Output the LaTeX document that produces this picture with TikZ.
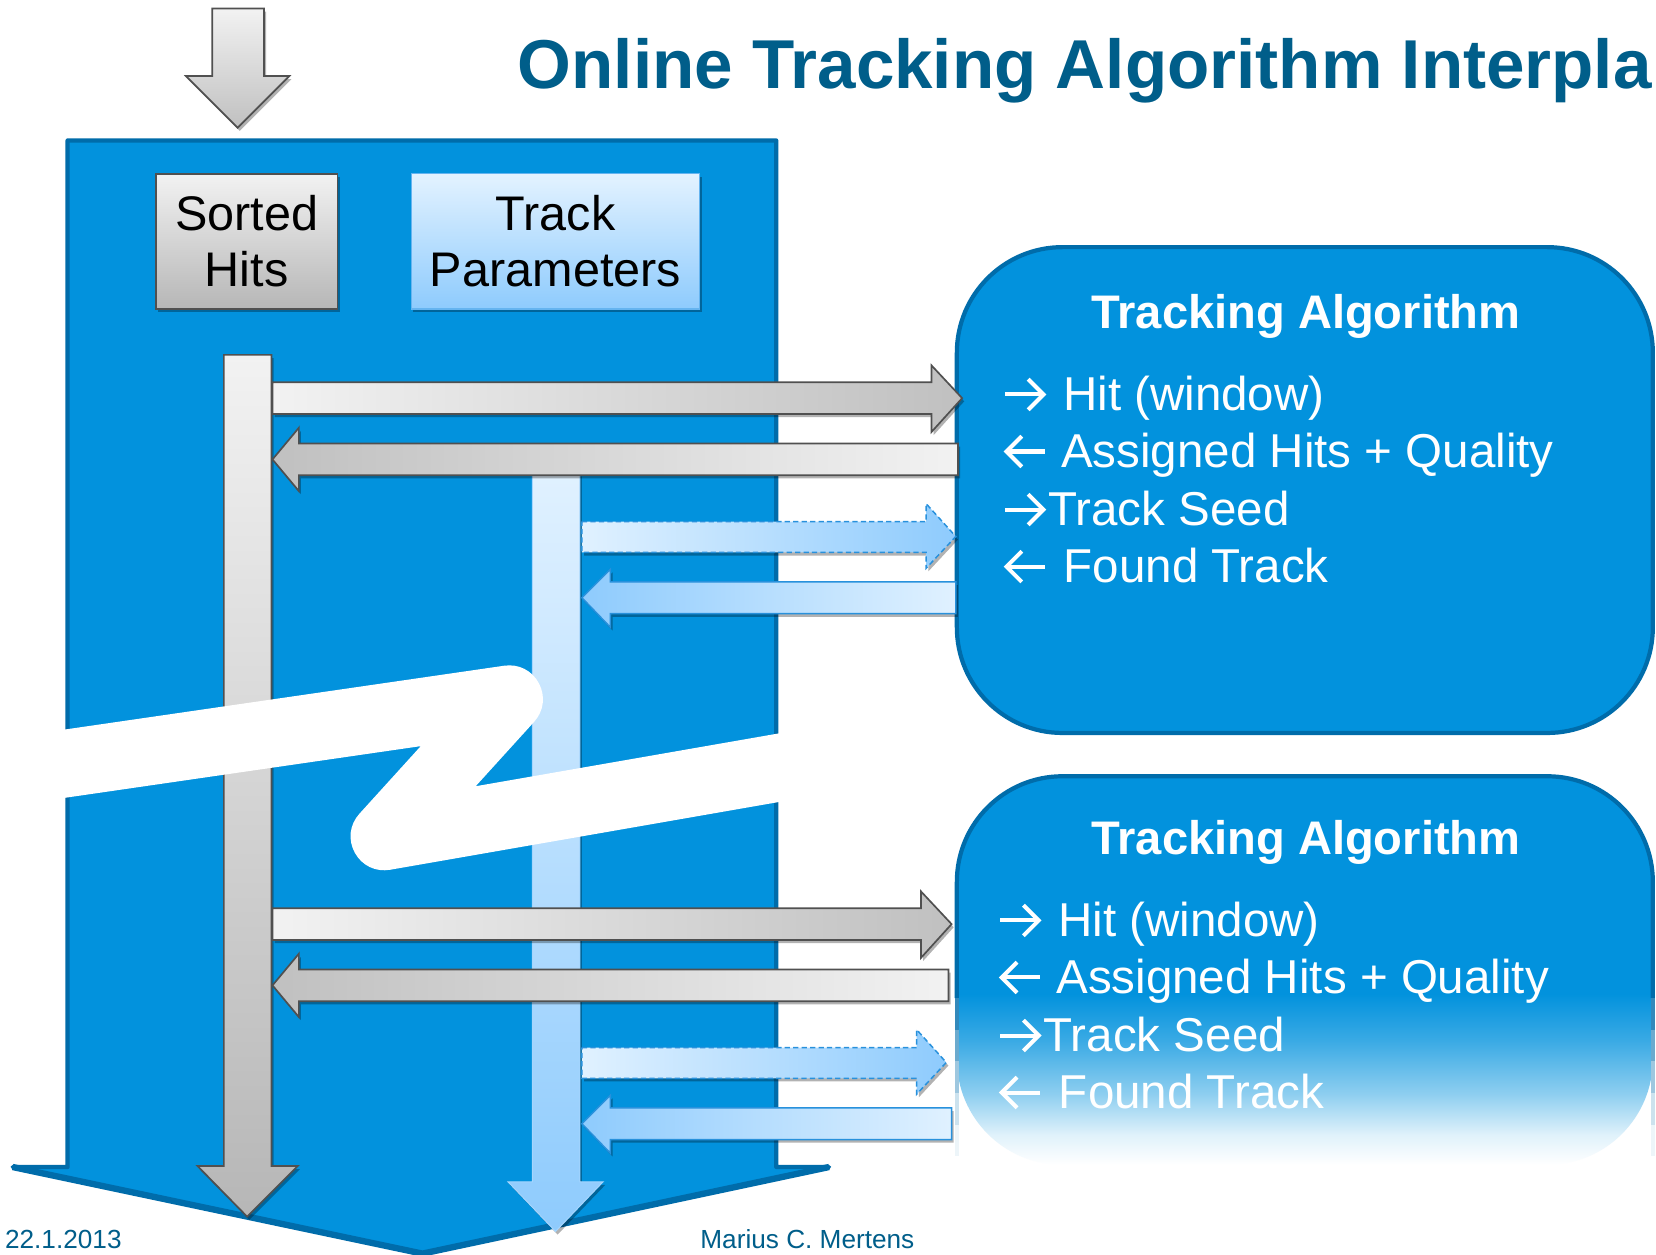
\documentclass[tikz,border=0pt]{standalone}
\usepackage{fontspec}
\setmainfont{Liberation Sans}
\usetikzlibrary{shadows}
\definecolor{panelblue}{RGB}{2,146,221}
\definecolor{panelline}{RGB}{0,108,170}
\definecolor{titleblue}{RGB}{0,94,138}
\definecolor{grayline}{RGB}{80,80,80}
\definecolor{lightA}{RGB}{224,241,255}
\definecolor{lightB}{RGB}{142,203,253}
\definecolor{lightline}{RGB}{40,145,220}
\definecolor{grayA}{RGB}{242,242,242}
\definecolor{grayB}{RGB}{192,192,192}
\pgfdeclareverticalshading{boxfade}{100bp}{color(0bp)=(white); color(25bp)=(white); color(28.8bp)=(panelblue!12!white); color(34.2bp)=(panelblue!45!white); color(41bp)=(panelblue!78!white); color(47bp)=(panelblue); color(100bp)=(panelblue)}
% small line arrows used in the item lists: #1 = left x, #2 = baseline y
\newcommand\myrarr[2]{%
  \draw[symarrow] (#1,#2-15.5) -- ({#1+36.5},#2-15.5);
  \draw[symarrow] ({#1+22},#2-30) -- ({#1+36.5},#2-15.5) -- ({#1+22},#2-1);}
\newcommand\mylarr[2]{%
  \draw[symarrow] ({#1+1.5},#2-15.5) -- ({#1+37.5},#2-15.5);
  \draw[symarrow] ({#1+16},#2-30) -- ({#1+1.5},#2-15.5) -- ({#1+16},#2-1);}
\begin{document}
\begin{tikzpicture}[x=1pt,y=-1pt,
  shd/.style={drop shadow={shadow xshift=2pt, shadow yshift=-3pt, opacity=0.3, fill=black}},
  grayarrow/.style={draw=grayline, line width=1.6},
  lightarrow/.style={draw=lightline, line width=1.4},
  dasharrow/.style={draw=lightline, line width=1.4, dash pattern=on 5pt off 3pt},
  symarrow/.style={draw=white, line width=3.8, line cap=butt, line join=miter},
  itemtxt/.style={inner sep=0pt, anchor=base west, text=white, font=\fontsize{45}{54}\selectfont},
  algotitle/.style={inner sep=0pt, anchor=base, text=white, font=\fontsize{44.6}{52}\selectfont\bfseries},
  boxtxt/.style={inner sep=0pt, align=center, font=\fontsize{46}{53}\selectfont}]
\useasboundingbox[fill=white] (0,0) rectangle (1568,1188);

% title
\node[inner sep=0pt, anchor=base west, text=titleblue, font=\fontsize{65.5}{78}\selectfont\bfseries] (title) at (490,84) {Online Tracking Algorithm Interpla};

% top input arrow
\draw[grayarrow, shd, top color=grayA, bottom color=grayB] (201,8) -- (250,8) -- (250,72) -- (274,72) -- (225,121) -- (176,72) -- (201,72) -- cycle;

% main panel (big down arrow)
\draw[panelline, fill=panelblue, line width=4, line join=round] (64,133) -- (735,133) -- (735,1105) -- (785,1105) -- (400,1187) -- (12,1105) -- (64,1105) -- cycle;
\draw[panelline, line width=6, line join=round] (785,1105) -- (400,1187) -- (12,1105);

% vertical shafts
\draw[grayarrow, shd, top color=grayA, bottom color=grayB!95!black] (212,336) -- (257,336) -- (257,1104) -- (282,1104) -- (234,1152) -- (187,1104) -- (212,1104) -- cycle;
\draw[draw=lightB!80!white, line width=1, shd, top color=lightA, bottom color=lightB] (504,448) -- (549,448) -- (549,1119) -- (571,1119) -- (526,1166) -- (481,1119) -- (504,1119) -- cycle;

% tracking algorithm boxes
\draw[panelline, fill=panelblue, line width=4, rounded corners=100pt] (906,234) rectangle (1565,694);
\shade[shading=boxfade, rounded corners=100pt] (906,735) rectangle (1565,1103);
\draw[panelline, line width=4, rounded corners=100pt] (906,945) -- (906,735) -- (1565,735) -- (1565,945);
\foreach \a/\b/\c in {945/975/80, 975/1005/58, 1005/1035/38, 1035/1065/20, 1065/1095/7}{
  \draw[panelline!\c!white, line width=4] (906,\a) -- (906,\b);
  \draw[panelline!\c!white, line width=4] (1565,\a) -- (1565,\b);
}

% top group of horizontal arrows
\draw[grayarrow, shd, left color=grayA, right color=grayB] (258,362) -- (882,362) -- (882,346) -- (911,377) -- (882,409) -- (882,392) -- (258,392) -- cycle;
\draw[grayarrow, shd, left color=grayB, right color=grayA] (907,420) -- (283,420) -- (283,405) -- (258,435) -- (283,465) -- (283,450) -- (907,450) -- cycle;
\draw[dasharrow, shd, left color=lightA, right color=lightB] (551,494) -- (877,494) -- (877,477) -- (905,508) -- (877,538) -- (877,523) -- (551,523) -- cycle;
\draw[lightarrow, shd, left color=lightB, right color=lightA] (905,551) -- (578,551) -- (578,539) -- (551,566) -- (578,594) -- (578,581) -- (905,581) -- cycle;

% bottom group of horizontal arrows
\draw[grayarrow, shd, left color=grayA, right color=grayB] (258,860) -- (872,860) -- (872,844) -- (901,875) -- (872,907) -- (872,890) -- (258,890) -- cycle;
\draw[grayarrow, shd, left color=grayB, right color=grayA] (898,918) -- (283,918) -- (283,903) -- (258,933) -- (283,963) -- (283,948) -- (898,948) -- cycle;
\draw[dasharrow, shd, left color=lightA, right color=lightB] (551,992) -- (868,992) -- (868,975) -- (896,1006) -- (868,1036) -- (868,1021) -- (551,1021) -- cycle;
\draw[lightarrow, shd, left color=lightB, right color=lightA] (901,1049) -- (578,1049) -- (578,1037) -- (551,1064) -- (578,1092) -- (578,1079) -- (901,1079) -- cycle;

% white break band
\draw[white, line width=64, line join=round] (0,732) -- (482,662) -- (364,792) -- (800,716);

% data boxes
\node[boxtxt, draw=grayline, line width=1.6, shd, top color=grayA, bottom color=grayB!95!black, minimum width=172, minimum height=128] (sorted) at (233.5,228.5) {Sorted\\Hits};
\node[boxtxt, draw=lightB!60!lightline, line width=1.4, shd, top color=lightA!90!white, bottom color=lightB, minimum width=273, minimum height=128] (params) at (526,228.5) {Track\\Parameters};

% texts of algorithm boxes
\node[algotitle] (alg1) at (1236.5,311) {Tracking Algorithm};
\myrarr{951.5}{389}
\node[itemtxt] (a1) at (1006.5,389) {Hit (window)};
\mylarr{951.5}{443}
\node[itemtxt] (a2) at (1004.5,443) {Assigned Hits + Quality};
\myrarr{951.5}{498}
\node[itemtxt] (a3) at (992.5,498) {Track Seed};
\mylarr{951.5}{552}
\node[itemtxt] (a4) at (1007,552) {Found Track};

\node[algotitle] (alg2) at (1236.5,809) {Tracking Algorithm};
\myrarr{947}{887}
\node[itemtxt] (b1) at (1002,887) {Hit (window)};
\mylarr{947}{941}
\node[itemtxt] (b2) at (1000,941) {Assigned Hits + Quality};
\myrarr{947}{996}
\node[itemtxt] (b3) at (988,996) {Track Seed};
\mylarr{947}{1050}
\node[itemtxt] (b4) at (1002.5,1050) {Found Track};

% footer
\node[inner sep=0pt, anchor=base west, text=titleblue, font=\fontsize{24.8}{30}\selectfont] (date) at (4.6,1182.5) {22.1.2013};
\node[inner sep=0pt, anchor=base west, text=titleblue, font=\fontsize{24.8}{30}\selectfont] (author) at (663,1182.5) {Marius C. Mertens};
\end{tikzpicture}
\end{document}
